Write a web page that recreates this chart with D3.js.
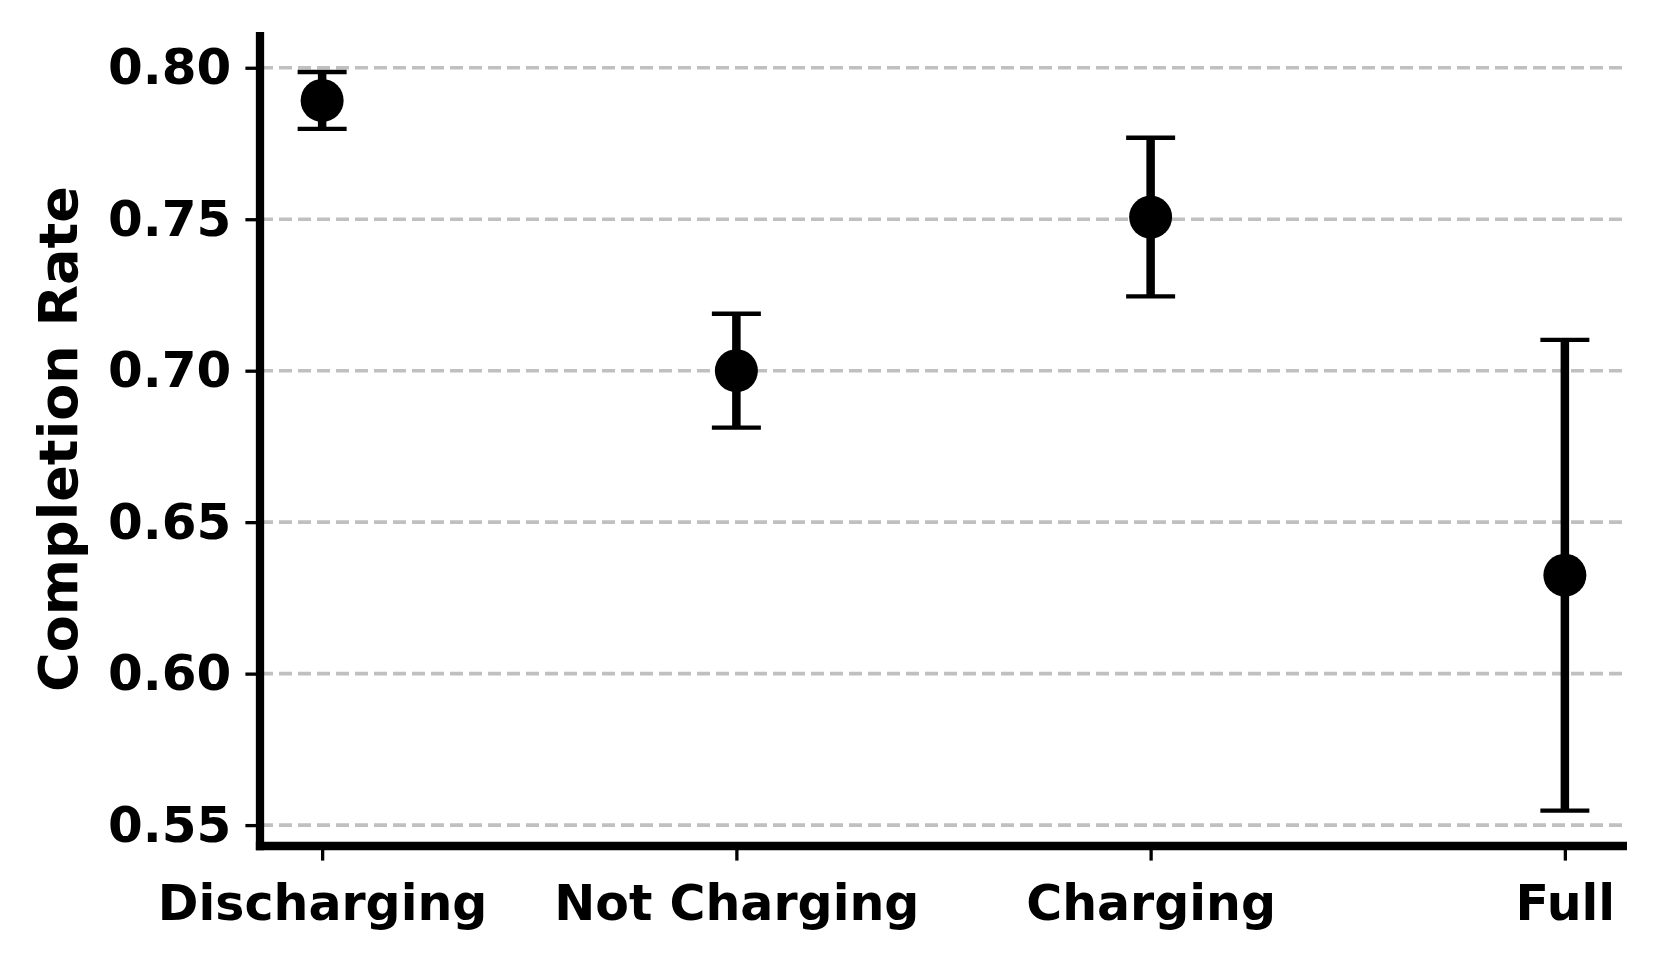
<!DOCTYPE html>
<html>
<head>
<meta charset="utf-8">
<script src="https://cdn.jsdelivr.net/npm/d3@7"></script>
<style>
  body { margin: 0; background: #fff; }
  text { font-family: "DejaVu Sans", sans-serif; font-weight: bold; fill: #000; }
</style>
</head>
<body>
<div id="chart"></div>
<script>
// battery state vs completion rate
const categories = ["Discharging", "Not Charging", "Charging", "Full"];
const means = [0.7892, 0.7000, 0.7507, 0.6325];
const errors = [0.0094, 0.0188, 0.0262, 0.0777];
const yTicks = [0.55, 0.60, 0.65, 0.70, 0.75, 0.80];

const W = 1659, H = 965;
const margin = {top: 32, right: 32, bottom: 119, left: 260};
const width = W - margin.left - margin.right;
const height = H - margin.top - margin.bottom;

const svg = d3.select("#chart").append("svg")
    .attr("width", W)
    .attr("height", H)
    .append("g")
    .attr("transform", `translate(${margin.left},${margin.top})`);

// categorical positions like matplotlib: 0..3 with 5% margins
const x = d3.scaleLinear()
    .domain([-0.15, categories.length - 1 + 0.15])
    .range([0, width]);

const y = d3.scaleLinear()
    .domain([0.5431, 0.8118])
    .range([height, 0]);

// grid
svg.append("g")
    .selectAll("line")
    .data(yTicks)
    .join("line")
    .attr("x1", 0)
    .attr("x2", width)
    .attr("y1", d => y(d))
    .attr("y2", d => y(d))
    .attr("stroke", "#c0c0c0")
    .attr("stroke-width", 3.6)
    .attr("stroke-dasharray", "13,6");

// axes
const tickLen = 14.6;
const yAxis = d3.axisLeft(y)
    .tickValues(yTicks)
    .tickFormat(d3.format(".2f"))
    .tickSize(tickLen)
    .tickPadding(14);

const xAxis = d3.axisBottom(x)
    .tickValues(d3.range(categories.length))
    .tickFormat(i => categories[i])
    .tickSize(tickLen)
    .tickPadding(25);

const yG = svg.append("g").call(yAxis);
const xG = svg.append("g").attr("transform", `translate(0,${height})`).call(xAxis);

[yG, xG].forEach(g => {
    g.select(".domain").remove();
    g.selectAll(".tick line").attr("stroke", "#000").attr("stroke-width", 3.3);
});
xG.selectAll(".tick text").style("font-size", "49px");
yG.selectAll(".tick text").style("font-size", "50px");

// error bars
const pts = categories.map((c, i) => ({i, m: means[i], e: errors[i]}));
const capW = 24.5;

const eb = svg.append("g").selectAll("g")
    .data(pts)
    .join("g");

eb.append("line")
    .attr("x1", d => x(d.i))
    .attr("x2", d => x(d.i))
    .attr("y1", d => y(d.m - d.e))
    .attr("y2", d => y(d.m + d.e))
    .attr("stroke", "#000")
    .attr("stroke-width", 8.5);

eb.selectAll(".cap")
    .data(d => [d.m - d.e, d.m + d.e].map(v => ({i: d.i, v})))
    .join("line")
    .attr("class", "cap")
    .attr("x1", d => x(d.i) - capW)
    .attr("x2", d => x(d.i) + capW)
    .attr("y1", d => y(d.v))
    .attr("y2", d => y(d.v))
    .attr("stroke", "#000")
    .attr("stroke-width", 4.3);

eb.append("circle")
    .attr("cx", d => x(d.i))
    .attr("cy", d => y(d.m))
    .attr("r", 21.5)
    .attr("fill", "#000");

// spines
const sw = 8.3;
svg.append("line")
    .attr("x1", 0).attr("x2", 0)
    .attr("y1", 0).attr("y2", height + sw / 2)
    .attr("stroke", "#000").attr("stroke-width", sw);
svg.append("line")
    .attr("x1", -sw / 2).attr("x2", width)
    .attr("y1", height).attr("y2", height)
    .attr("stroke", "#000").attr("stroke-width", sw);

// y label
svg.append("text")
    .attr("transform", `translate(${58 - margin.left},${height / 2}) rotate(-90)`)
    .attr("text-anchor", "middle")
    .attr("dy", "0.35em")
    .style("font-size", "54px")
    .text("Completion Rate");
</script>
</body>
</html>
